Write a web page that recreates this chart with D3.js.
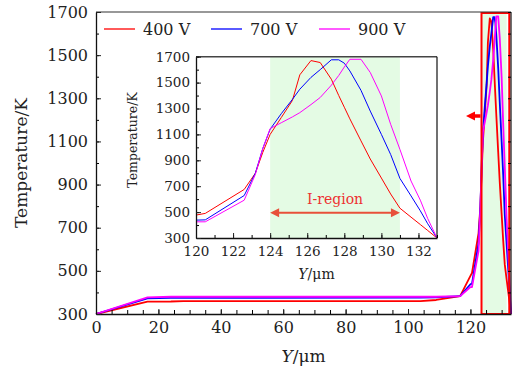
<!DOCTYPE html>
<html><head><meta charset="utf-8">
<script src="https://cdn.jsdelivr.net/npm/d3@7/dist/d3.min.js"></script>
<style>
body{margin:0;background:#fff;}
svg text{font-family:"DejaVu Serif",serif;fill:#222;}
</style></head>
<body><svg id="c" width="513" height="374"></svg>
<script>
// ---- data ----
const positions = [0, 16.5, 24, 28, 104, 109, 116.7, 120, 120.5, 122.6, 123.2, 123.6, 124, 124.6, 125.2, 125.6, 126.2, 126.7, 127.3, 127.7, 128.0, 128.3, 128.9, 129.4, 130.0, 130.5, 131.0, 131.6, 132.1, 132.5, 133];
const temp400 = [300, 357, 358, 360, 360, 365, 383, 477, 490, 675, 800, 960, 1100, 1230, 1362, 1560, 1670, 1655, 1526, 1400, 1310, 1220, 1050, 910, 763, 640, 530, 461, 404, 358, 300];
const temp700 = [300, 372, 375, 375, 376, 377, 383, 438, 440, 628, 800, 990, 1140, 1260, 1370, 1449, 1540, 1600, 1676, 1676, 1650, 1590, 1440, 1280, 1100, 945, 760, 625, 510, 410, 300];
const temp900 = [300, 377, 380, 380, 380, 380, 383, 425, 425, 592, 790, 990, 1145, 1190, 1235, 1268, 1330, 1385, 1480, 1555, 1620, 1680, 1680, 1578, 1397, 1178, 984, 740, 592, 450, 300];
const seriesNames = ["400 V", "700 V", "900 V"];
const seriesColors = ["#ff0000", "#0000ff", "#ff00ff"];
const mainXTicks = [0, 20, 40, 60, 80, 100, 120];
const mainYTicks = [300, 500, 700, 900, 1100, 1300, 1500, 1700];
const insetXTicks = [120, 122, 124, 126, 128, 130, 132];
const insetYTicks = [300, 500, 700, 900, 1100, 1300, 1500, 1700];
const iRegion = [124, 131];
const mainRegionBox = [123.55, 132.45];
const mainGreen = [123.8, 131.6];

const svg = d3.select("#c");
const seriesVals = [temp400, temp700, temp900];
const fmt = d3.format("d");

// ---- main chart ----
const x = d3.scaleLinear().domain([0, 133]).range([96, 511]);
const y = d3.scaleLinear().domain([300, 1700]).range([314, 12]);

svg.append("rect").attr("x", x(mainGreen[0])).attr("y", y(1700))
  .attr("width", x(mainGreen[1]) - x(mainGreen[0])).attr("height", y(300) - y(1700))
  .attr("fill", "#e4fbe4");

const lineMain = d3.line().x(d => x(d[0])).y(d => y(d[1]));
seriesVals.forEach((vals, i) => {
  svg.append("path").datum(positions.map((p, j) => [p, vals[j]]))
    .attr("d", lineMain).attr("fill", "none").attr("stroke", seriesColors[i])
    .attr("stroke-width", 1.8).attr("stroke-linejoin", "round");
});

// red box
svg.append("rect").attr("x", x(mainRegionBox[0])).attr("y", y(1700) + 1)
  .attr("width", x(mainRegionBox[1]) - x(mainRegionBox[0])).attr("height", y(300) - y(1700) - 1)
  .attr("fill", "none").attr("stroke", "#ff0000").attr("stroke-width", 2);

// red arrow (pointing left)
const ay = 116, ax0 = x(mainRegionBox[0]) - 1, ax1 = 466;
svg.append("line").attr("x1", ax0).attr("x2", ax1 + 7).attr("y1", ay).attr("y2", ay)
  .attr("stroke", "#ff0000").attr("stroke-width", 3.5);
svg.append("path").attr("d", `M${ax1},${ay} L${ax1 + 9},${ay - 4.5} L${ax1 + 9},${ay + 4.5} Z`).attr("fill", "#ff0000");

// frame
svg.append("line").attr("x1", x(0)).attr("x2", x(133)).attr("y1", y(1700)).attr("y2", y(1700)).attr("stroke", "#333").attr("stroke-width", 1.2);
svg.append("line").attr("x1", x(133)).attr("x2", x(133)).attr("y1", y(1700)).attr("y2", y(300)).attr("stroke", "#111").attr("stroke-width", 1.2);
// right axis inward ticks
svg.append("g").attr("transform", `translate(${x(133)},0)`)
  .call(d3.axisRight(y).tickValues(d3.range(300, 1701, 100)).tickSize(-3).tickFormat("").tickSizeOuter(0))
  .call(g => g.select(".domain").remove());

function styleAxis(g, fs) {
  g.selectAll("text").style("font-size", fs + "px").attr("fill", "#222");
  g.selectAll("line").attr("stroke", "#222");
  g.select(".domain").attr("stroke", "#111").attr("stroke-width", 1.3);
}

// main axes
svg.append("g").attr("transform", `translate(0,${y(300)})`)
  .call(d3.axisBottom(x).tickValues(d3.range(0, 134, 5)).tickSize(-4).tickFormat("").tickSizeOuter(0))
  .call(g => g.select(".domain").remove());
svg.append("g").attr("transform", `translate(0,${y(300)})`)
  .call(d3.axisBottom(x).tickValues(mainXTicks).tickFormat(fmt).tickSize(-5).tickPadding(8).tickSizeOuter(0))
  .call(g => styleAxis(g, 16));
svg.append("g").attr("transform", `translate(${x(0)},0)`)
  .call(d3.axisLeft(y).tickValues(d3.range(300, 1701, 100)).tickSize(-3).tickFormat("").tickSizeOuter(0))
  .call(g => g.select(".domain").remove());
svg.append("g").attr("transform", `translate(${x(0)},0)`)
  .call(d3.axisLeft(y).tickValues(mainYTicks).tickFormat(fmt).tickSize(-5).tickPadding(8).tickSizeOuter(0))
  .call(g => styleAxis(g, 16));

svg.append("text").attr("transform", `translate(27,${(y(300) + y(1700)) / 2}) rotate(-90)`)
  .attr("text-anchor", "middle").style("font-size", "17px").text("Temperature/K");
const xl = svg.append("text").attr("x", (x(0) + x(133)) / 2).attr("y", 362)
  .attr("text-anchor", "middle").style("font-size", "17px");
xl.append("tspan").style("font-style", "italic").text("Y");
xl.append("tspan").text("/μm");

// legend
const legX = [104, 211, 319];
seriesNames.forEach((n, i) => {
  svg.append("line").attr("x1", legX[i]).attr("x2", legX[i] + 31).attr("y1", 29).attr("y2", 29)
    .attr("stroke", seriesColors[i]).attr("stroke-width", 1.3);
  svg.append("text").attr("x", legX[i] + 39).attr("y", 35).style("font-size", "16px").text(n);
});

// ---- inset ----
const ix = d3.scaleLinear().domain([120, 133]).range([196, 437]);
const iy = d3.scaleLinear().domain([300, 1700]).range([238, 56.7]);
const inset = svg.append("g");
inset.append("rect").attr("x", ix(120)).attr("y", iy(1700)).attr("width", ix(133) - ix(120))
  .attr("height", iy(300) - iy(1700)).attr("fill", "#fff");
inset.append("rect").attr("x", ix(iRegion[0])).attr("y", iy(1700)).attr("width", ix(iRegion[1]) - ix(iRegion[0]))
  .attr("height", iy(300) - iy(1700)).attr("fill", "#e4fbe4");

const lineInset = d3.line().x(d => ix(d[0])).y(d => iy(d[1]));
seriesVals.forEach((vals, i) => {
  const pts = positions.map((p, j) => [p, vals[j]]).filter(d => d[0] >= 120);
  inset.append("path").datum(pts).attr("d", lineInset).attr("fill", "none")
    .attr("stroke", seriesColors[i]).attr("stroke-width", 1);
});

// I-region arrow & label
const ry = 212.7, rc = "#e8503a";
inset.append("line").attr("x1", ix(iRegion[0]) + 6).attr("x2", ix(iRegion[1]) - 6).attr("y1", ry).attr("y2", ry)
  .attr("stroke", rc).attr("stroke-width", 2);
inset.append("path").attr("d", `M${ix(iRegion[0])},${ry} l9,-4.5 l0,9 Z`).attr("fill", rc);
inset.append("path").attr("d", `M${ix(iRegion[1])},${ry} l-9,-4.5 l0,9 Z`).attr("fill", rc);
inset.append("text").attr("x", (ix(iRegion[0]) + ix(iRegion[1])) / 2).attr("y", 204)
  .attr("text-anchor", "middle").style("font-size", "14px").style("fill", "#ee3030").text("I-region");

// inset frame
inset.append("line").attr("x1", ix(120)).attr("x2", ix(133)).attr("y1", iy(1700)).attr("y2", iy(1700)).attr("stroke", "#444").attr("stroke-width", 1.5);
inset.append("line").attr("x1", ix(133)).attr("x2", ix(133)).attr("y1", iy(1700)).attr("y2", iy(300)).attr("stroke", "#111").attr("stroke-width", 1.2);

inset.append("g").attr("transform", `translate(0,${iy(300)})`)
  .call(d3.axisBottom(ix).tickValues(d3.range(120, 134, 1)).tickSize(-3).tickFormat("").tickSizeOuter(0))
  .call(g => g.select(".domain").remove());
inset.append("g").attr("transform", `translate(0,${iy(300)})`)
  .call(d3.axisBottom(ix).tickValues(insetXTicks).tickFormat(fmt).tickSize(-5).tickPadding(8).tickSizeOuter(0))
  .call(g => styleAxis(g, 13.5));
inset.append("g").attr("transform", `translate(${ix(120)},0)`)
  .call(d3.axisLeft(iy).tickValues(d3.range(300, 1701, 100)).tickSize(-3).tickFormat("").tickSizeOuter(0))
  .call(g => g.select(".domain").remove());
inset.append("g").attr("transform", `translate(${ix(120)},0)`)
  .call(d3.axisLeft(iy).tickValues(insetYTicks).tickFormat(fmt).tickSize(-5).tickPadding(6).tickSizeOuter(0))
  .call(g => styleAxis(g, 13.5));

inset.append("text").attr("transform", `translate(137,140) rotate(-90)`)
  .attr("text-anchor", "middle").style("font-size", "12.5px").text("Temperature/K");
const il = inset.append("text").attr("x", (ix(120) + ix(133)) / 2).attr("y", 279)
  .attr("text-anchor", "middle").style("font-size", "14px");
il.append("tspan").style("font-style", "italic").text("Y");
il.append("tspan").text("/μm");
</script></body></html>
